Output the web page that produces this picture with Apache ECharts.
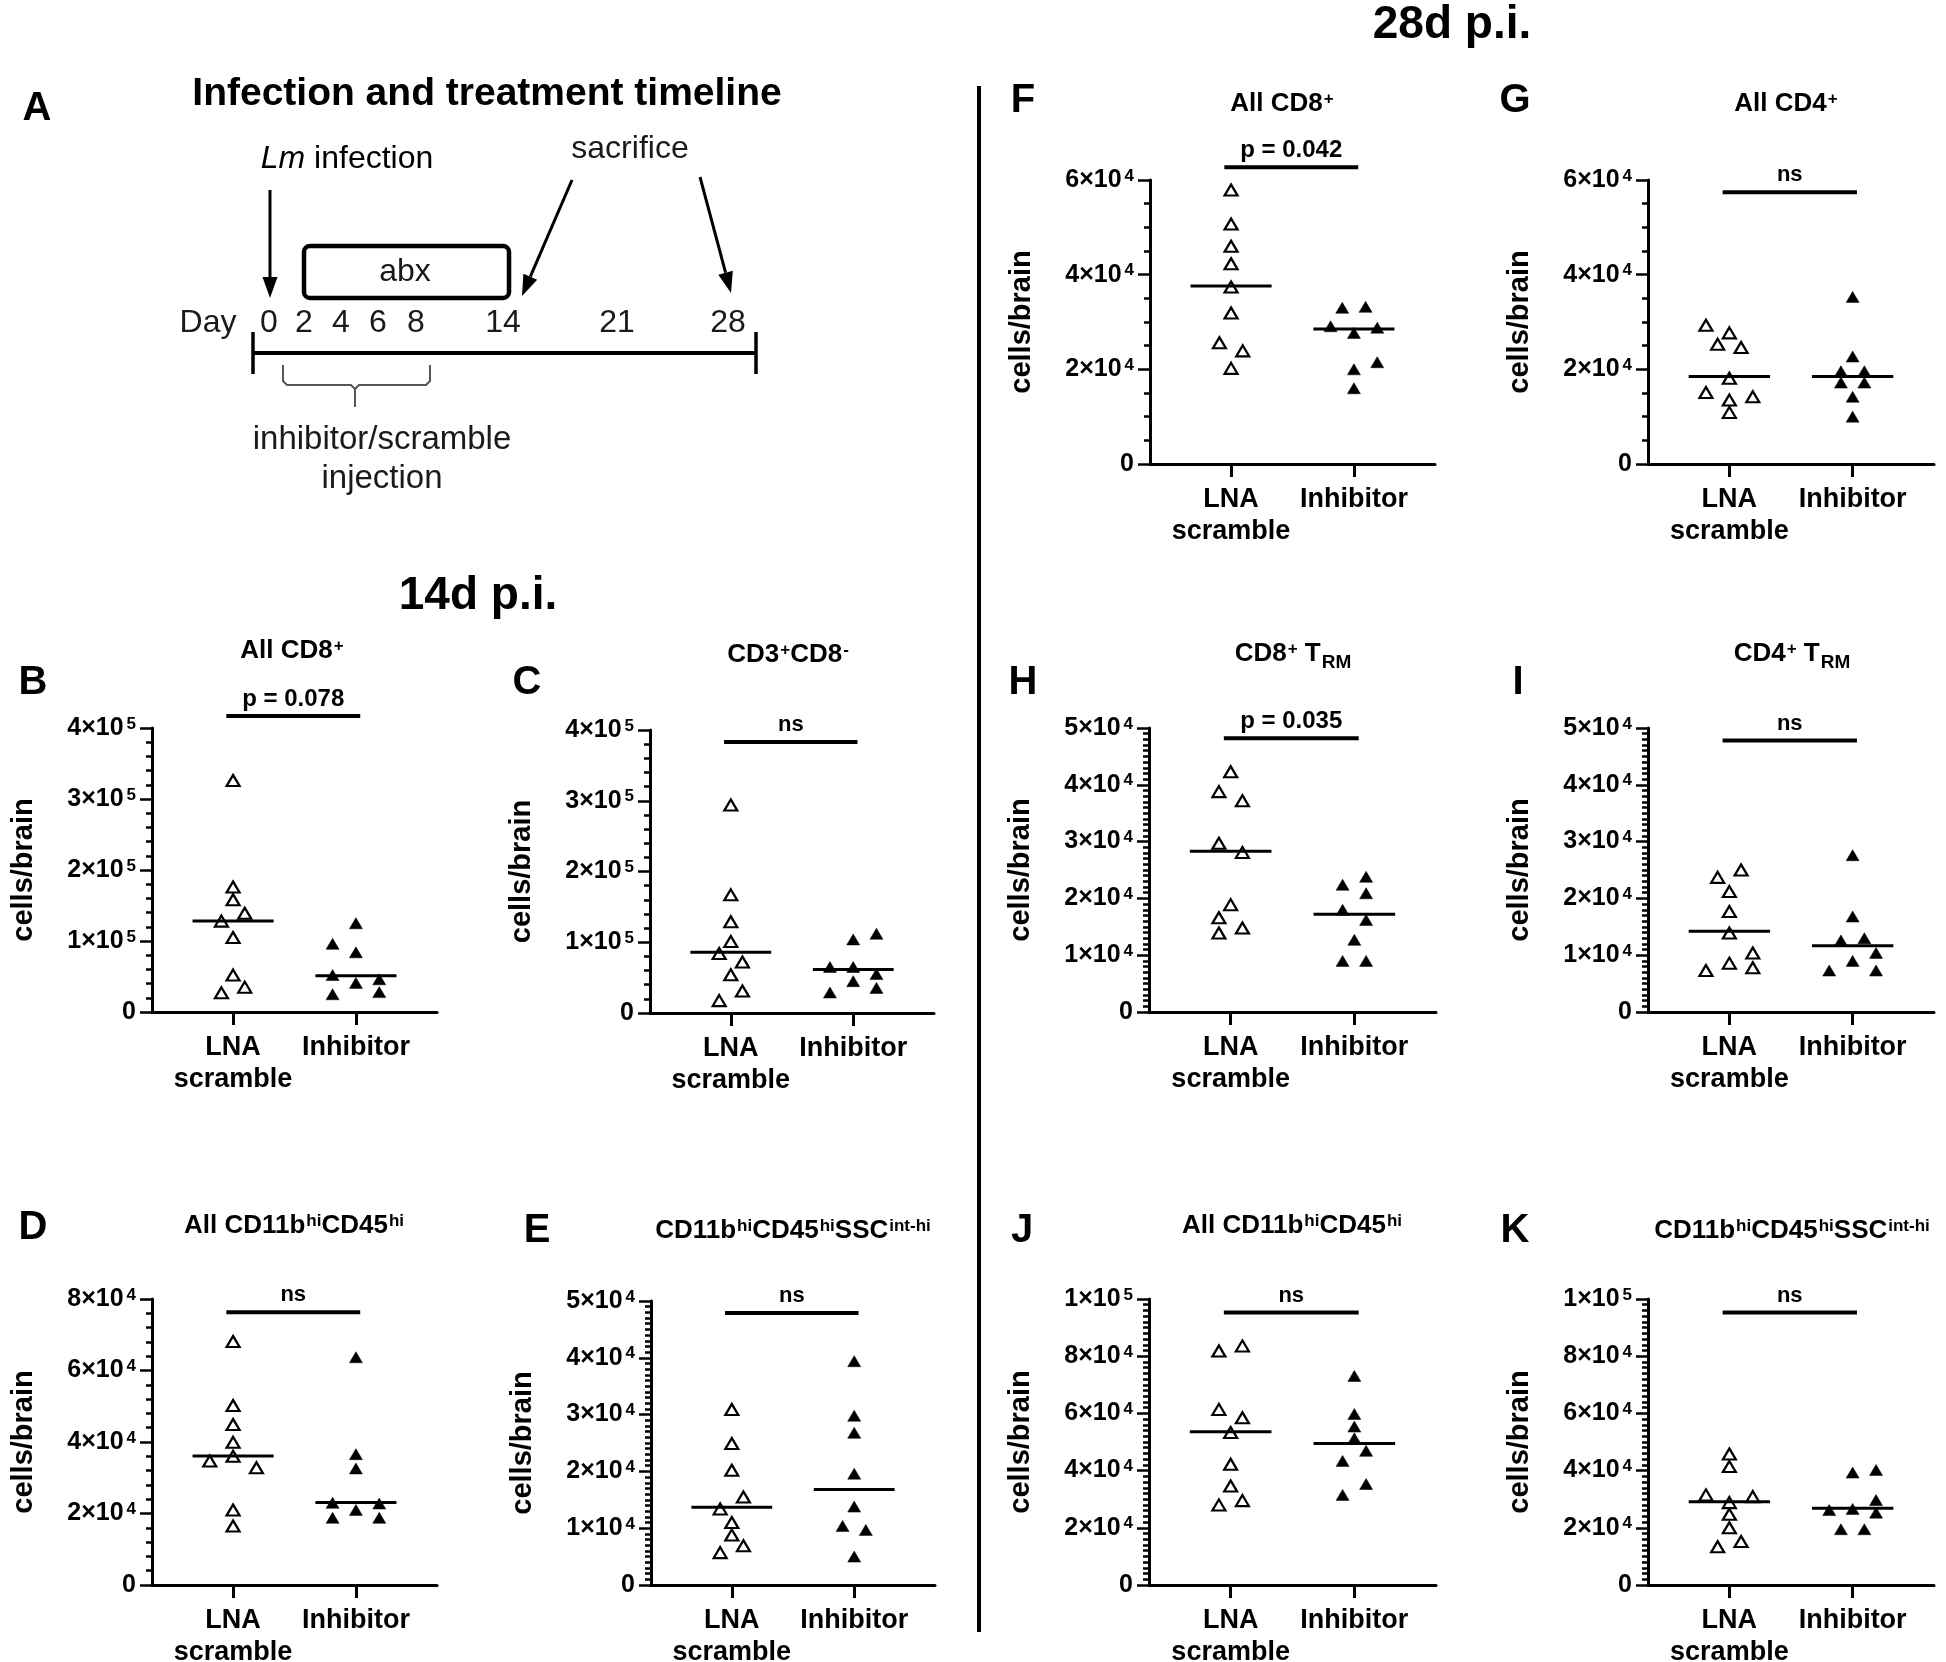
<!DOCTYPE html>
<html><head><meta charset="utf-8">
<script src="https://cdn.jsdelivr.net/npm/echarts@6/dist/echarts.min.js"></script>
<style>html,body{margin:0;padding:0;background:#fff}#c{width:1946px;height:1662px}</style>
</head><body><div id="c"></div>
<script>
const FONT = '"Liberation Sans", Arial, Helvetica, sans-serif';
const groupLabels = ['LNA\nscramble', 'Inhibitor'];
const yName = 'cells/brain';

// ---------- Panel B : All CD8+ (14d) ----------
const B_scramble = [326000, 176000, 158000, 139000, 128000, 105000, 52000, 35000, 27000];
const B_scrambleSpread = [0, 0, 0, 1, -1, 0, 0, 1, -1];
const B_inhibitor = [125000, 96000, 84000, 52000, 46000, 41000, 25000, 28000];
const B_inhibitorSpread = [0, -2, 0, -2, 2, 0, -2, 2];
const B_medians = [128000, 51000];
const B_bar = 417000, B_barText = 'p = 0.078';
const B_ticks = [0, 100000, 200000, 300000, 400000];
const B_tickLabels = ['0', '1×10^5', '2×10^5', '3×10^5', '4×10^5'];

// ---------- Panel C : CD3+CD8- (14d) ----------
const C_scramble = [294000, 167000, 129000, 101000, 84000, 72000, 54000, 31000, 17500];
const C_scrambleSpread = [0, 0, 0, 0, -1, 1, 0, 1, -1];
const C_inhibitor = [112000, 104000, 65000, 65000, 55000, 45000, 35500, 29000];
const C_inhibitorSpread = [2, 0, -2, 0, 2, 0, 2, -2];
const C_medians = [86000, 61500];
const C_bar = 383000, C_barText = 'ns';
const C_ticks = [0, 100000, 200000, 300000, 400000];
const C_tickLabels = ['0', '1×10^5', '2×10^5', '3×10^5', '4×10^5'];

// ---------- Panel D : All CD11b hi CD45 hi (14d) ----------
const D_scramble = [68100, 50200, 44900, 39900, 36000, 34700, 32800, 21000, 16500];
const D_scrambleSpread = [0, 0, 0, 0, 0, -2, 2, 0, 0];
const D_inhibitor = [63700, 36600, 32600, 23000, 22800, 21000, 18800, 18800];
const D_inhibitorSpread = [0, 0, 0, -2, 2, 0, -2, 2];
const D_medians = [36100, 23100];
const D_bar = 76300, D_barText = 'ns';
const D_ticks = [0, 20000, 40000, 60000, 80000];
const D_tickLabels = ['0', '2×10^4', '4×10^4', '6×10^4', '8×10^4'];

// ---------- Panel E : CD11b hi CD45 hi SSC int-hi (14d) ----------
const E_scramble = [30900, 24900, 20200, 15500, 13400, 11000, 8800, 6900, 5700];
const E_scrambleSpread = [0, 0, 0, 1, -1, 0, 0, 1, -1];
const E_inhibitor = [39400, 29800, 26800, 19600, 13800, 10400, 9700, 5000];
const E_inhibitorSpread = [0, 0, 0, 0, 0, -1, 1, 0];
const E_medians = [13700, 16800];
const E_bar = 47900, E_barText = 'ns';
const E_ticks = [0, 10000, 20000, 30000, 40000, 50000];
const E_tickLabels = ['0', '1×10^4', '2×10^4', '3×10^4', '4×10^4', '5×10^4'];

// ---------- Panel F : All CD8+ (28d) ----------
const F_scramble = [57900, 50700, 46000, 42300, 37400, 31900, 25600, 23900, 20200];
const F_scrambleSpread = [0, 0, 0, 0, 0, 0, -1, 1, 0];
const F_inhibitor = [33000, 33200, 29100, 27700, 28800, 20000, 21500, 16000];
const F_inhibitorSpread = [-1, 1, -2, 0, 2, 0, 2, 0];
const F_medians = [37600, 28500];
const F_bar = 62700, F_barText = 'p = 0.042';
const F_ticks = [0, 20000, 40000, 60000];
const F_tickLabels = ['0', '2×10^4', '4×10^4', '6×10^4'];

// ---------- Panel G : All CD4+ (28d) ----------
const G_scramble = [29300, 27700, 25300, 24600, 18100, 15100, 14200, 13500, 10900];
const G_scrambleSpread = [-2, 0, -1, 1, 0, -2, 2, 0, 0];
const G_inhibitor = [35300, 22700, 19600, 19600, 17200, 17200, 14200, 10000];
const G_inhibitorSpread = [0, 0, -1, 1, -1, 1, 0, 0];
const G_medians = [18500, 18500];
const G_bar = 57400, G_barText = 'ns';
const G_ticks = [0, 20000, 40000, 60000];
const G_tickLabels = ['0', '2×10^4', '4×10^4', '6×10^4'];

// ---------- Panel H : CD8+ TRM (28d) ----------
const H_scramble = [42300, 38800, 37200, 29700, 28100, 18900, 16600, 14800, 13900];
const H_scrambleSpread = [0, -1, 1, -1, 1, 0, -1, 1, -1];
const H_inhibitor = [23800, 22400, 20900, 18000, 16200, 12700, 9000, 9000];
const H_inhibitorSpread = [1, -1, 1, -1, 1, 0, -1, 1];
const H_medians = [28300, 17200];
const H_bar = 48200, H_barText = 'p = 0.035';
const H_ticks = [0, 10000, 20000, 30000, 40000, 50000];
const H_tickLabels = ['0', '1×10^4', '2×10^4', '3×10^4', '4×10^4', '5×10^4'];

// ---------- Panel I : CD4+ TRM (28d) ----------
const I_scramble = [25000, 23700, 21200, 17700, 13900, 10400, 8600, 7800, 7300];
const I_scrambleSpread = [1, -1, 0, 0, 0, 2, 0, 2, -2];
const I_inhibitor = [27600, 16800, 12600, 13000, 10400, 9000, 7300, 7300];
const I_inhibitorSpread = [0, 0, -1, 1, 2, 0, -2, 2];
const I_medians = [14200, 11650];
const I_bar = 47800, I_barText = 'ns';
const I_ticks = [0, 10000, 20000, 30000, 40000, 50000];
const I_tickLabels = ['0', '1×10^4', '2×10^4', '3×10^4', '4×10^4', '5×10^4'];

// ---------- Panel J : All CD11b hi CD45 hi (28d) ----------
const J_scramble = [81800, 83600, 61400, 58500, 53300, 42200, 34600, 29500, 28000];
const J_scrambleSpread = [-1, 1, -1, 1, 0, 0, 0, 1, -1];
const J_inhibitor = [73100, 59800, 55400, 51300, 46900, 43400, 35300, 31500];
const J_inhibitorSpread = [0, 0, 0, 0, 1, -1, 1, -1];
const J_medians = [53600, 49500];
const J_bar = 95300, J_barText = 'ns';
const J_ticks = [0, 20000, 40000, 60000, 80000, 100000];
const J_tickLabels = ['0', '2×10^4', '4×10^4', '6×10^4', '8×10^4', '1×10^5'];

// ---------- Panel K : CD11b hi CD45 hi SSC int-hi (28d) ----------
const K_scramble = [45800, 41400, 31500, 30900, 28800, 24700, 20000, 15200, 13400];
const K_scrambleSpread = [0, 0, -2, 2, 0, 0, 0, 1, -1];
const K_inhibitor = [39300, 40200, 29700, 26200, 26600, 25300, 19500, 19500];
const K_inhibitorSpread = [0, 2, 2, -2, 0, 2, -1, 1];
const K_medians = [29100, 26800];
const K_bar = 95300, K_barText = 'ns';
const K_ticks = [0, 20000, 40000, 60000, 80000, 100000];
const K_tickLabels = ['0', '2×10^4', '4×10^4', '6×10^4', '8×10^4', '1×10^5'];

// ---------- Titles ----------
const panelTitles = {
  B: '{t|All CD8}{s|+}', C: '{t|CD3}{s|+}{t|CD8}{s|-}',
  D: '{t|All CD11b}{s|hi}{t|CD45}{s|hi}', E: '{t|CD11b}{s|hi}{t|CD45}{s|hi}{t|SSC}{s|int-hi}',
  F: '{t|All CD8}{s|+}', G: '{t|All CD4}{s|+}',
  H: '{t|CD8}{s|+}{t| T}{b|RM}', I: '{t|CD4}{s|+}{t| T}{b|RM}',
  J: '{t|All CD11b}{s|hi}{t|CD45}{s|hi}', K: '{t|CD11b}{s|hi}{t|CD45}{s|hi}{t|SSC}{s|int-hi}'
};

// ---------- Layout (positions only) ----------
const layout = {
  B: {left: 152, top: 728, w: 285, h: 284, title: [292, 651], letter: [33, 683], minor: 5},
  C: {left: 650, top: 730, w: 284, h: 283, title: [788, 655], letter: [527, 683], minor: 5},
  D: {left: 152, top: 1299, w: 285, h: 286, title: [294, 1226], letter: [33, 1228], minor: 5},
  E: {left: 651, top: 1301, w: 284, h: 284, title: [793, 1231], letter: [537, 1231], minor: 10},
  F: {left: 1150, top: 180, w: 285, h: 284, title: [1282, 104], letter: [1023, 101], minor: 4},
  G: {left: 1648, top: 180, w: 286, h: 284, title: [1786, 104], letter: [1515, 101], minor: 4},
  H: {left: 1149, top: 728, w: 287, h: 284, title: [1293, 654], letter: [1023, 683], minor: 10},
  I: {left: 1648, top: 728, w: 286, h: 284, title: [1792, 654], letter: [1518, 683], minor: 10},
  J: {left: 1149, top: 1299, w: 287, h: 286, title: [1292, 1226], letter: [1022, 1231], minor: 10},
  K: {left: 1648, top: 1299, w: 286, h: 286, title: [1792, 1231], letter: [1515, 1231], minor: 10}
};

const panels = {
  B: [B_scramble, B_scrambleSpread, B_inhibitor, B_inhibitorSpread, B_medians, B_bar, B_barText, B_ticks, B_tickLabels],
  C: [C_scramble, C_scrambleSpread, C_inhibitor, C_inhibitorSpread, C_medians, C_bar, C_barText, C_ticks, C_tickLabels],
  D: [D_scramble, D_scrambleSpread, D_inhibitor, D_inhibitorSpread, D_medians, D_bar, D_barText, D_ticks, D_tickLabels],
  E: [E_scramble, E_scrambleSpread, E_inhibitor, E_inhibitorSpread, E_medians, E_bar, E_barText, E_ticks, E_tickLabels],
  F: [F_scramble, F_scrambleSpread, F_inhibitor, F_inhibitorSpread, F_medians, F_bar, F_barText, F_ticks, F_tickLabels],
  G: [G_scramble, G_scrambleSpread, G_inhibitor, G_inhibitorSpread, G_medians, G_bar, G_barText, G_ticks, G_tickLabels],
  H: [H_scramble, H_scrambleSpread, H_inhibitor, H_inhibitorSpread, H_medians, H_bar, H_barText, H_ticks, H_tickLabels],
  I: [I_scramble, I_scrambleSpread, I_inhibitor, I_inhibitorSpread, I_medians, I_bar, I_barText, I_ticks, I_tickLabels],
  J: [J_scramble, J_scrambleSpread, J_inhibitor, J_inhibitorSpread, J_medians, J_bar, J_barText, J_ticks, J_tickLabels],
  K: [K_scramble, K_scrambleSpread, K_inhibitor, K_inhibitorSpread, K_medians, K_bar, K_barText, K_ticks, K_tickLabels]
};

const SPREAD = 0.095;      // horizontal spread step (in group units)
const HALF_MED = 0.33;     // half width of median line
const BAR_X = [0.945, 2.035];

const grids = [], xAxes = [], yAxes = [], series = [], graphics = [];
const titleRich = {
  t: {fontSize: 26, fontWeight: 'bold', fontFamily: FONT, color: '#000'},
  s: {fontSize: 17, fontWeight: 'bold', fontFamily: FONT, color: '#000', verticalAlign: 'top', padding: [0, 0, 0, 1]},
  b: {fontSize: 19, fontWeight: 'bold', fontFamily: FONT, color: '#000', verticalAlign: 'bottom', padding: [0, 0, -5, 1]}
};
const tickRich = {
  m: {fontSize: 25, fontWeight: 'bold', fontFamily: FONT, color: '#000'},
  e: {fontSize: 17, fontWeight: 'bold', fontFamily: FONT, color: '#000', verticalAlign: 'top', padding: [0, 0, 0, 3]}
};

Object.keys(panels).forEach((key, gi) => {
  const [scr, scrSp, inh, inhSp, med, bar, barText, ticks, tickLabels] = panels[key];
  const L = layout[key];
  grids.push({left: L.left, top: L.top, width: L.w, height: L.h, outerBoundsMode: 'none'});
  xAxes.push({
    gridIndex: gi, type: 'value', min: 0.34, max: 2.66,
    axisLine: {show: true, onZero: false, lineStyle: {color: '#000', width: 3}},
    axisTick: {show: true, customValues: [1, 2], length: 13, lineStyle: {color: '#000', width: 3}},
    axisLabel: {show: true, customValues: [1, 2], formatter: v => groupLabels[Math.round(v) - 1],
      margin: 20, fontSize: 27, fontWeight: 'bold', lineHeight: 32, color: '#000', fontFamily: FONT},
    splitLine: {show: false}
  });
  yAxes.push({
    gridIndex: gi, type: 'value', min: ticks[0], max: ticks[ticks.length - 1], interval: ticks[1] - ticks[0],
    axisLine: {show: true, onZero: false, lineStyle: {color: '#000', width: 3}},
    axisTick: {show: true, length: 12, lineStyle: {color: '#000', width: 2.5}},
    minorTick: {show: true, splitNumber: L.minor, length: 6, lineStyle: {color: '#000', width: 2.5}},
    splitLine: {show: false}, minorSplitLine: {show: false},
    axisLabel: {
      margin: 16,
      formatter: v => {
        let idx = ticks.findIndex(t => Math.abs(t - v) < 1e-6 * (ticks[1] || 1));
        const lab = idx >= 0 ? tickLabels[idx] : '';
        const parts = lab.split('^');
        return parts.length > 1 ? '{m|' + parts[0] + '}{e|' + parts[1] + '}' : '{m|' + parts[0] + '}';
      },
      rich: tickRich
    },
    name: yName, nameLocation: 'middle', nameGap: 114,
    nameTextStyle: {fontSize: 29, fontWeight: 'bold', color: '#000', fontFamily: FONT}
  });
  series.push({
    type: 'scatter', name: 'LNA scramble', xAxisIndex: gi, yAxisIndex: gi, z: 3,
    symbol: 'triangle', symbolSize: [13, 11],
    itemStyle: {color: '#fff', borderColor: '#000', borderWidth: 2.2, opacity: 1},
    data: scr.map((v, i) => [1 + scrSp[i] * SPREAD, v]), silent: true
  });
  series.push({
    type: 'scatter', name: 'Inhibitor', xAxisIndex: gi, yAxisIndex: gi, z: 3,
    symbol: 'triangle', symbolSize: [13, 11],
    itemStyle: {color: '#000', borderColor: '#000', borderWidth: 0.5, opacity: 1},
    data: inh.map((v, i) => [2 + inhSp[i] * SPREAD, v]), silent: true
  });
  series.push({
    type: 'custom', name: 'median', xAxisIndex: gi, yAxisIndex: gi, z: 5, silent: true,
    data: med.map((m, k) => [k + 1, m]),
    renderItem: (params, api) => {
      const a = api.coord([api.value(0) - HALF_MED, api.value(1)]);
      const b = api.coord([api.value(0) + HALF_MED, api.value(1)]);
      return {type: 'line', shape: {x1: a[0], y1: a[1], x2: b[0], y2: b[1]}, style: {stroke: '#000', lineWidth: 3}};
    }
  });
  series.push({
    type: 'custom', name: 'significance', xAxisIndex: gi, yAxisIndex: gi, z: 5, silent: true, clip: false,
    data: [[BAR_X[0], BAR_X[1], bar]],
    renderItem: (params, api) => {
      const a = api.coord([api.value(0), api.value(2)]);
      const b = api.coord([api.value(1), api.value(2)]);
      return {type: 'group', children: [
        {type: 'line', shape: {x1: a[0], y1: a[1], x2: b[0], y2: b[1]}, style: {stroke: '#000', lineWidth: 4}},
        {type: 'text', x: (a[0] + b[0]) / 2, y: a[1] - 17,
          style: {text: barText, fontSize: barText === 'ns' ? 22 : 24, fontWeight: 'bold', fontFamily: FONT, fill: '#000', align: 'center', verticalAlign: 'middle'}}
      ]};
    }
  });
  graphics.push({type: 'text', x: L.title[0], y: L.title[1],
    style: {text: panelTitles[key], rich: titleRich, align: 'center', verticalAlign: 'middle'}});
  graphics.push({type: 'text', x: L.letter[0], y: L.letter[1],
    style: {text: key, fontSize: 40, fontWeight: 'bold', fontFamily: FONT, fill: '#000', align: 'center', verticalAlign: 'middle'}});
});

// ---------- Headers, divider ----------
function txt(x, y, text, size, weight, extra) {
  return Object.assign({type: 'text', x: x, y: y, style: Object.assign({text: text, fontSize: size, fontWeight: weight || 'normal',
    fontFamily: FONT, fill: '#000', align: 'center', verticalAlign: 'middle'}, extra || {})});
}
graphics.push(txt(478, 596, '14d p.i.', 46, 'bold'));
graphics.push(txt(1452, 25, '28d p.i.', 46, 'bold'));
graphics.push({type: 'line', shape: {x1: 979, y1: 86, x2: 979, y2: 1632}, style: {stroke: '#000', lineWidth: 4}});

// ---------- Panel A : timeline diagram ----------
const timelineDays = ['0', '2', '4', '6', '8', '14', '21', '28'];
const timelineDayX = [269, 304, 341, 378, 416, 503, 617, 728];
const TL = '#1a1a1a';
const TFS = 32;
graphics.push(txt(37, 109, 'A', 40, 'bold'));
graphics.push(txt(487, 94, 'Infection and treatment timeline', 39, 'bold'));
graphics.push({type: 'text', x: 347, y: 159, style: {text: '{i|Lm}{n| infection}', align: 'center', verticalAlign: 'middle',
  rich: {i: {fontSize: TFS, fontStyle: 'italic', fontFamily: FONT, color: TL}, n: {fontSize: TFS, fontFamily: FONT, color: TL}}}});
graphics.push(txt(630, 149, 'sacrifice', TFS, 'normal', {fill: TL}));
graphics.push(txt(405, 272, 'abx', TFS, 'normal', {fill: TL}));
graphics.push(txt(208, 323, 'Day', TFS, 'normal', {fill: TL}));
timelineDays.forEach((d, i) => graphics.push(txt(timelineDayX[i], 323, d, TFS, 'normal', {fill: TL})));
graphics.push(txt(382, 440, 'inhibitor/scramble', 33, 'normal', {fill: TL}));
graphics.push(txt(382, 479, 'injection', 33, 'normal', {fill: TL}));

function arrow(x1, y1, x2, y2) {
  const dx = x2 - x1, dy = y2 - y1, len = Math.hypot(dx, dy), ux = dx / len, uy = dy / len;
  const hl = 21, hw = 7.5;
  const bx = x2 - ux * hl, by = y2 - uy * hl;
  return [
    {type: 'line', shape: {x1: x1, y1: y1, x2: bx, y2: by}, style: {stroke: '#000', lineWidth: 3}},
    {type: 'polygon', shape: {points: [[x2, y2], [bx - uy * hw, by + ux * hw], [bx + uy * hw, by - ux * hw]]}, style: {fill: '#000'}}
  ];
}
graphics.push(...arrow(270, 190, 270, 298));
graphics.push(...arrow(572, 180, 522, 296));
graphics.push(...arrow(700, 177, 731, 293));
graphics.push({type: 'rect', shape: {x: 304, y: 246, width: 205, height: 52, r: 6}, style: {fill: 'none', stroke: '#000', lineWidth: 4.5}});
graphics.push({type: 'line', shape: {x1: 253, y1: 353, x2: 756, y2: 353}, style: {stroke: '#000', lineWidth: 4}});
graphics.push({type: 'line', shape: {x1: 253, y1: 332, x2: 253, y2: 374}, style: {stroke: '#000', lineWidth: 3.5}});
graphics.push({type: 'line', shape: {x1: 756, y1: 332, x2: 756, y2: 374}, style: {stroke: '#000', lineWidth: 3.5}});
graphics.push({type: 'polyline', shape: {points: [[283, 365], [283, 381], [287, 385], [351, 385], [355, 389], [359, 385], [426, 385], [430, 381], [430, 365]]},
  style: {stroke: '#555', lineWidth: 2, fill: 'none'}});
graphics.push({type: 'line', shape: {x1: 355, y1: 389, x2: 355, y2: 407}, style: {stroke: '#555', lineWidth: 2}});

const chart = echarts.init(document.getElementById('c'), null, {renderer: 'canvas'});
chart.setOption({
  animation: false,
  backgroundColor: '#fff',
  textStyle: {fontFamily: FONT},
  grid: grids, xAxis: xAxes, yAxis: yAxes, series: series,
  graphic: graphics
});
</script></body></html>
